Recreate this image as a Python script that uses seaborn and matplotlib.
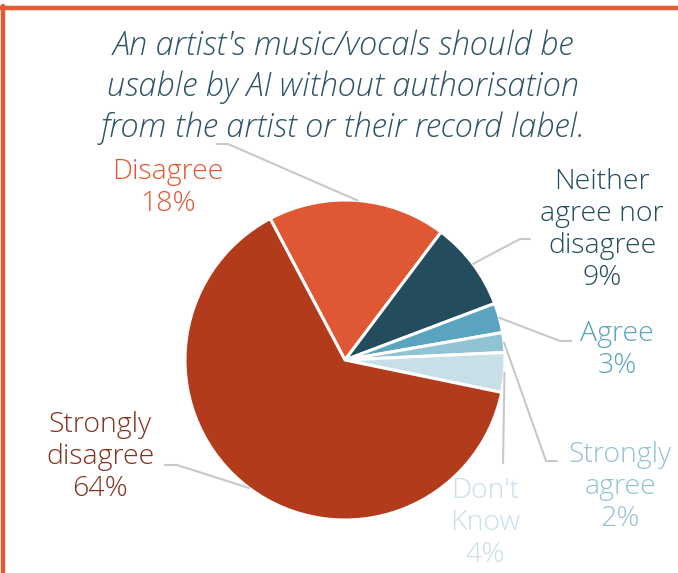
import numpy as np
import matplotlib
matplotlib.use("Agg")
import matplotlib.pyplot as plt
import seaborn as sns

# Survey answers (percent of respondents)
labels = ["Disagree", "Neither\nagree nor\ndisagree", "Agree",
          "Strongly\nagree", "Don't\nKnow", "Strongly\ndisagree"]
values = [18, 9, 3, 2, 4, 64]

slice_colors = ["#E05733", "#234D5C", "#5BA4BF", "#92C3D3", "#C8DFE7", "#B23B1C"]
text_colors = ["#E05733", "#234D5C", "#5BA4BF", "#92C3D3", "#C8DFE7", "#83301D"]

title = ("An artist's music/vocals should be\n"
         "usable by AI without authorisation\n"
         "from the artist or their record label.")

sns.set_theme(style="white")
plt.rcParams["font.family"] = ["Open Sans", "DejaVu Sans"]

W, H = 678, 573
CX, CY, R = 345, 360, 160   # pie centre / radius in pixels (y from top)

# label layout: text centre, leader elbow, leader end (pixels, y from top)
label_xy = [(168, 188), (602, 230), (617, 350), (620, 487), (485, 523), (100, 457)]
elbow_xy = [(228, 144), (520, 239), (560, 341), (546, 461), (503, 463), (177, 465)]
end_xy = [(217, 144), (530, 239), (571, 341), (557, 461), (503, 463), (165, 465)]

fig = plt.figure(figsize=(W / 100, H / 100), dpi=100)
ax = fig.add_axes([0, 0, 1, 1])

wedges, _ = ax.pie(values, colors=slice_colors, startangle=117.9, counterclock=False,
                   radius=R, center=(CX, H - CY),
                   wedgeprops=dict(edgecolor="white", linewidth=2.2))
ax.set_xlim(0, W)
ax.set_ylim(0, H)
ax.set_aspect("equal")
ax.axis("off")

for w, lab, v, col, (tx, ty), (ex, ey), (nx, ny) in zip(
        wedges, labels, values, text_colors, label_xy, elbow_xy, end_xy):
    mid = np.deg2rad((w.theta1 + w.theta2) / 2)
    sx = CX + R * np.cos(mid)
    sy = (H - CY) + R * np.sin(mid)
    ax.plot([sx, ex, nx], [sy, H - ey, H - ny], color="#C8C8C8", lw=1.5,
            solid_joinstyle="miter")
    ax.text(tx, H - ty, f"{lab}\n{v}%", color=col, fontsize=20.5, fontweight="light",
            ha="center", va="center", linespacing=1.2)

ax.text(343, H - 87, title, color="#2E5566", fontsize=23.5, style="italic",
        fontweight="light", ha="center", va="center", linespacing=1.3)

# orange frame on top and left
fig.add_artist(plt.Line2D([0, 1], [1 - 8 / H, 1 - 8 / H], color="#E05A33", lw=3.2))
fig.add_artist(plt.Line2D([3 / W, 3 / W], [0, 1 - 6 / H], color="#E05A33", lw=3.2))

fig.savefig("out.png", dpi=100)
